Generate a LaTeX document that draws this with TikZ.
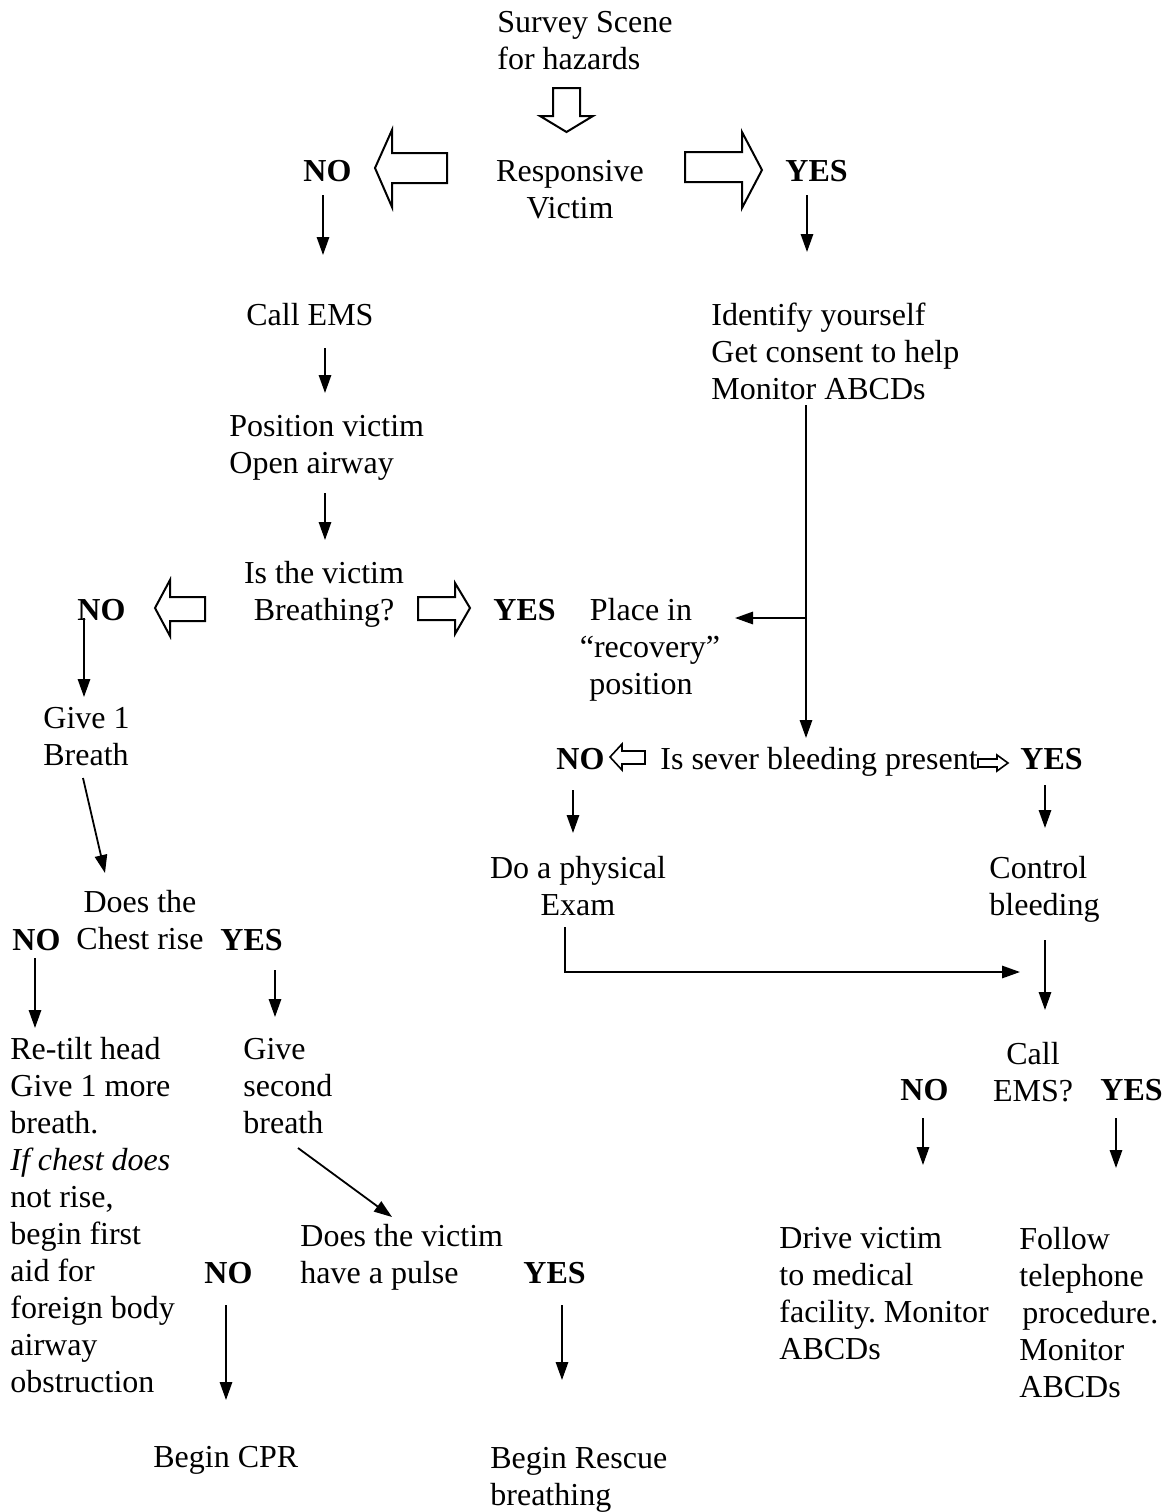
\documentclass[tikz,border=0pt]{standalone}
\usepackage{fontspec}
\setmainfont{Liberation Serif}
\usetikzlibrary{arrows.meta}
\frenchspacing
\begin{document}
\begin{tikzpicture}[x=0.5pt,y=-0.5pt,
  txt/.style={inner sep=0pt, font=\fontsize{16}{18.5}\selectfont},
  lbl/.style={inner sep=0pt, font=\fontsize{16}{18.5}\selectfont\bfseries},
  arr/.style={line width=0.9pt, -{Triangle[length=9pt,width=6.2pt]}},
  blk/.style={line width=1pt, line join=miter, fill=white},
  blksmall/.style={line width=0.8pt, line join=miter, fill=white}]
\useasboundingbox (0,0) rectangle (1168,1512);

% ---------- top: scene survey and responsiveness ----------
\node[txt, anchor=north west, align=left] (survey) at (497,6) {\strut Survey Scene\\for hazards};
\node[txt, anchor=north, align=center] (resp) at (570,155) {\strut Responsive\\Victim};
\node[lbl, anchor=base west] (noA) at (303,181) {NO};
\node[lbl, anchor=base west] (yesA) at (785,181) {YES};

% hollow block arrows
\draw[blk] (553,88) -- (580,88) -- (580,116) -- (593,116) -- (566.5,132) -- (540,116) -- (553,116) -- cycle;
\draw[blk] (447,153) -- (392,153) -- (392,130) -- (375,168) -- (392,207) -- (392,183) -- (447,183) -- cycle;
\draw[blk] (685,152) -- (742,152) -- (742,132) -- (762,170) -- (742,208) -- (742,182) -- (685,182) -- cycle;

% ---------- unresponsive branch ----------
\node[txt, anchor=base west] (callems) at (246,325) {Call EMS};
\node[txt, anchor=north west, align=left] (posv) at (229,410) {\strut Position victim\\Open airway};
\node[txt, anchor=north, align=center] (breath) at (324,557) {\strut Is the victim\\Breathing?};
\node[lbl, anchor=base west] (noB) at (77,620) {NO};
\node[lbl, anchor=base west] (yesB) at (493,620) {YES};
\draw[blk] (205,597) -- (170,597) -- (170,580) -- (155,608) -- (170,636) -- (170,621) -- (205,621) -- cycle;
\draw[blk] (418,597) -- (455,597) -- (455,583) -- (470,608) -- (455,634) -- (455,620) -- (418,620) -- cycle;

\node[txt, anchor=north west, align=left] (give1) at (43,702) {\strut Give 1\\Breath};
\node[txt, anchor=north, align=center] (chest) at (140,886) {\strut Does the\\Chest rise};
\node[lbl, anchor=base west] (noD) at (12,950) {NO};
\node[lbl, anchor=base west] (yesD) at (220,950) {YES};
\node[txt, anchor=north west, align=left] (retilt) at (10,1033)
  {\strut Re-tilt head\\Give 1 more\\breath.\\\textit{If chest does}\\not rise,\\begin first\\aid for\\foreign body\\airway\\obstruction};
\node[txt, anchor=north west, align=left] (second) at (243,1033) {\strut Give\\second\\breath};
\node[txt, anchor=north west, align=left] (pulse) at (300,1220) {\strut Does the victim\\have a pulse};
\node[lbl, anchor=base west] (noF) at (204,1283) {NO};
\node[lbl, anchor=base west] (yesF) at (523,1283) {YES};
\node[txt, anchor=base west] (cpr) at (153,1467) {Begin CPR};
\node[txt, anchor=north west, align=left] (rescue) at (490,1442) {\strut Begin Rescue\\breathing};

% ---------- responsive branch ----------
\node[txt, anchor=north west, align=left] (ident) at (711,299) {\strut Identify yourself\\Get consent to help\\Monitor ABCDs};
\node[txt, anchor=north, align=center] (recov) at (641,594) {\strut Place in\\\hspace*{9pt}“recovery”\\position};
\node[txt, anchor=base west] (bleed) at (660,769) {Is sever bleeding present};
\node[lbl, anchor=base west] (noC) at (556,769) {NO};
\node[lbl, anchor=base west] (yesC) at (1020,769) {YES};
\draw[blksmall] (645,751) -- (622,751) -- (622,744) -- (610,757) -- (622,770) -- (622,764) -- (645,764) -- cycle;
\draw[blksmall] (978,759) -- (997,759) -- (997,755) -- (1008,763) -- (997,771) -- (997,767) -- (978,767) -- cycle;
\node[txt, anchor=north, align=center] (exam) at (578,852) {\strut Do a physical\\Exam};
\node[txt, anchor=north west, align=left] (control) at (989,852) {\strut Control\\bleeding};
\node[txt, anchor=north, align=center] (callq) at (1033,1038) {\strut Call\\EMS?};
\node[lbl, anchor=base west] (noE) at (900,1100) {NO};
\node[lbl, anchor=base west] (yesE) at (1100,1100) {YES};
\node[txt, anchor=north west, align=left] (drive) at (779,1222) {\strut Drive victim\\to medical\\facility. Monitor\\ABCDs};
\node[txt, anchor=north west, align=left] (follow) at (1019,1223) {\strut Follow\\telephone\\\hspace*{1.5pt}procedure.\\Monitor\\ABCDs};

% ---------- connector end points ----------
\coordinate (noA-out) at (323,195);   \coordinate (callems-in) at (323,255);
\coordinate (yesA-out) at (807,195);  \coordinate (ident-in) at (807,252);
\coordinate (callems-out) at (325,348); \coordinate (posv-in) at (325,393);
\coordinate (posv-out) at (325,493);  \coordinate (breath-in) at (325,540);
\coordinate (noB-out) at (84,618);    \coordinate (give1-in) at (84,697);
\coordinate (give1-out) at (83,778);  \coordinate (chest-in) at (105,873);
\coordinate (noD-out) at (35,958);    \coordinate (retilt-in) at (35,1028);
\coordinate (yesD-out) at (275,970);  \coordinate (second-in) at (275,1017);
\coordinate (second-out) at (298,1148); \coordinate (pulse-in) at (392,1217);
\coordinate (noF-out) at (226,1305);  \coordinate (cpr-in) at (226,1400);
\coordinate (yesF-out) at (562,1305); \coordinate (rescue-in) at (562,1380);
\coordinate (ident-out) at (806,405); \coordinate (bleed-in) at (806,738);
\coordinate (split) at (806,618);     \coordinate (recov-in) at (735,618);
\coordinate (noC-out) at (573,790);   \coordinate (exam-in) at (573,833);
\coordinate (yesC-out) at (1045,785); \coordinate (control-in) at (1045,828);
\coordinate (exam-out) at (565,927);  \coordinate (merge) at (1020,972);
\coordinate (control-out) at (1045,940); \coordinate (callq-in) at (1045,1010);
\coordinate (noE-out) at (923,1118);  \coordinate (drive-in) at (923,1165);
\coordinate (yesE-out) at (1116,1118); \coordinate (follow-in) at (1116,1168);

% ---------- connectors ----------
\draw[arr] (noA-out) -- (callems-in);
\draw[arr] (yesA-out) -- (ident-in);
\draw[arr] (callems-out) -- (posv-in);
\draw[arr] (posv-out) -- (breath-in);
\draw[arr] (noB-out) -- (give1-in);
\draw[arr] (give1-out) -- (chest-in);
\draw[arr] (noD-out) -- (retilt-in);
\draw[arr] (yesD-out) -- (second-in);
\draw[arr] (second-out) -- (pulse-in);
\draw[arr] (noF-out) -- (cpr-in);
\draw[arr] (yesF-out) -- (rescue-in);
\draw[arr] (ident-out) -- (bleed-in);
\draw[arr] (split) -- (recov-in);
\draw[arr] (noC-out) -- (exam-in);
\draw[arr] (yesC-out) -- (control-in);
\draw[arr] (exam-out) |- (merge);
\draw[arr] (control-out) -- (callq-in);
\draw[arr] (noE-out) -- (drive-in);
\draw[arr] (yesE-out) -- (follow-in);
\end{tikzpicture}
\end{document}
